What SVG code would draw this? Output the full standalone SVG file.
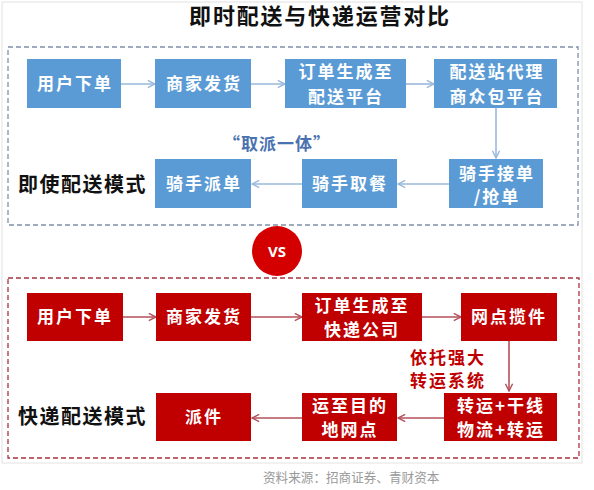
<svg xmlns="http://www.w3.org/2000/svg" width="594" height="490" viewBox="0 0 594 490">
<defs>
<style>
.bb{fill:#5b9bd5}
.rb{fill:#c00000}
.bt{font-family:"Noto Sans CJK SC","Noto Sans",sans-serif;font-weight:bold;font-size:17px;fill:#ffffff;text-anchor:middle;letter-spacing:2px}
.lbl{font-family:"Noto Sans CJK SC","Noto Sans",sans-serif;font-weight:bold;font-size:20px;fill:#111;letter-spacing:1.5px}
.bc{fill:none;stroke:#9ab8dc;stroke-width:1.6;marker-end:url(#ab)}
.rc{fill:none;stroke:#b5505a;stroke-width:1.6;marker-end:url(#ar)}
</style>
<marker id="ab" viewBox="0 0 10 10" refX="9" refY="5" markerWidth="9" markerHeight="9" markerUnits="userSpaceOnUse" orient="auto">
<path d="M1,1 L9,5 L1,9" fill="none" stroke="#9ab8dc" stroke-width="1.6"/>
</marker>
<marker id="ar" viewBox="0 0 10 10" refX="9" refY="5" markerWidth="9" markerHeight="9" markerUnits="userSpaceOnUse" orient="auto">
<path d="M1,1 L9,5 L1,9" fill="none" stroke="#b5505a" stroke-width="1.6"/>
</marker>
</defs>
<rect x="0" y="0" width="594" height="490" fill="#ffffff"/>
<rect x="2" y="2" width="580" height="461" fill="none" stroke="#e2e2e2" stroke-width="1"/>
<text x="320" y="24" font-family="'Noto Sans CJK SC',sans-serif" font-weight="bold" font-size="22" letter-spacing="1.8" text-anchor="middle" fill="#111">即时配送与快递运营对比</text>

<rect x="8" y="47" width="570" height="178" fill="none" stroke="#7f90ab" stroke-width="1.3" stroke-dasharray="5,3"/>
<rect x="8" y="278" width="571" height="180" fill="none" stroke="#a8333f" stroke-width="1.3" stroke-dasharray="5,3"/>

<g id="connectors">
<path class="bc" d="M121,84 L155,84"/>
<path class="bc" d="M251,84 L285,84"/>
<path class="bc" d="M406,84 L434,84"/>
<path class="bc" d="M496,108 L496,158"/>
<path class="bc" d="M449,184 L398,184"/>
<path class="bc" d="M302,184 L252,184"/>
<path class="rc" d="M123,317 L156,317"/>
<path class="rc" d="M251,317 L302,317"/>
<path class="rc" d="M422,317 L461,317"/>
<path class="rc" d="M509,341 L509,391"/>
<path class="rc" d="M444,418 L398,418"/>
<path class="rc" d="M302,418 L252,418"/>
</g>

<g id="b1"><rect class="bb" x="27" y="59" width="94" height="49"/><text class="bt" x="75" y="90">用户下单</text></g>
<g id="b2"><rect class="bb" x="155" y="59" width="96" height="49"/><text class="bt" x="204" y="90">商家发货</text></g>
<g id="b3"><rect class="bb" x="285" y="59" width="121" height="49"/><text class="bt" x="346" y="78">订单生成至</text><text class="bt" x="346" y="103">配送平台</text></g>
<g id="b4"><rect class="bb" x="434" y="59" width="123" height="49"/><text class="bt" x="497" y="78">配送站代理</text><text class="bt" x="497" y="103">商众包平台</text></g>
<g id="b5"><rect class="bb" x="449" y="159" width="94" height="49"/><text class="bt" x="497" y="180">骑手接单</text><text class="bt" x="497" y="203">/抢单</text></g>
<g id="b6"><rect class="bb" x="302" y="159" width="95" height="49"/><text class="bt" x="350" y="190">骑手取餐</text></g>
<g id="b7"><rect class="bb" x="155" y="159" width="96" height="49"/><text class="bt" x="204" y="190">骑手派单</text></g>
<g id="quote"><text x="277" y="150" font-family="'Noto Sans CJK SC',sans-serif" font-weight="bold" font-size="17" letter-spacing="1" text-anchor="middle" fill="#4a72b0">“取派一体”</text></g>
<g id="lbl1"><text class="lbl" x="18" y="192">即使配送模式</text></g>

<g id="vs"><circle cx="277" cy="251" r="25" fill="#d40000"/><text x="277" y="257" font-family="'Open Sans','Liberation Sans',sans-serif" font-weight="bold" font-size="15" text-anchor="middle" fill="#fff">VS</text></g>

<g id="r1"><rect class="rb" x="27" y="293" width="96" height="48"/><text class="bt" x="75" y="323">用户下单</text></g>
<g id="r2"><rect class="rb" x="156" y="293" width="95" height="48"/><text class="bt" x="204" y="323">商家发货</text></g>
<g id="r3"><rect class="rb" x="302" y="293" width="120" height="48"/><text class="bt" x="362" y="312">订单生成至</text><text class="bt" x="362" y="336">快递公司</text></g>
<g id="r4"><rect class="rb" x="461" y="293" width="96" height="48"/><text class="bt" x="509" y="323">网点揽件</text></g>
<g id="rlabel"><text x="448" y="364" font-family="'Noto Sans CJK SC',sans-serif" font-weight="bold" font-size="17" letter-spacing="2" text-anchor="middle" fill="#c00000">依托强大</text><text x="448" y="387" font-family="'Noto Sans CJK SC',sans-serif" font-weight="bold" font-size="17" letter-spacing="2" text-anchor="middle" fill="#c00000">转运系统</text></g>
<g id="r5"><rect class="rb" x="444" y="393" width="113" height="48"/><text class="bt" x="501" y="412">转运+干线</text><text class="bt" x="501" y="436">物流+转运</text></g>
<g id="r6"><rect class="rb" x="302" y="393" width="95" height="48"/><text class="bt" x="350" y="412">运至目的</text><text class="bt" x="350" y="436">地网点</text></g>
<g id="r7"><rect class="rb" x="156" y="393" width="95" height="48"/><text class="bt" x="204" y="423">派件</text></g>
<g id="lbl2"><text class="lbl" x="18" y="424">快递配送模式</text></g>

<text x="263" y="482" font-family="'Noto Sans CJK SC',sans-serif" font-size="12.6" fill="#9a9a9a">资料来源：招商证券、青财资本</text>
</svg>
